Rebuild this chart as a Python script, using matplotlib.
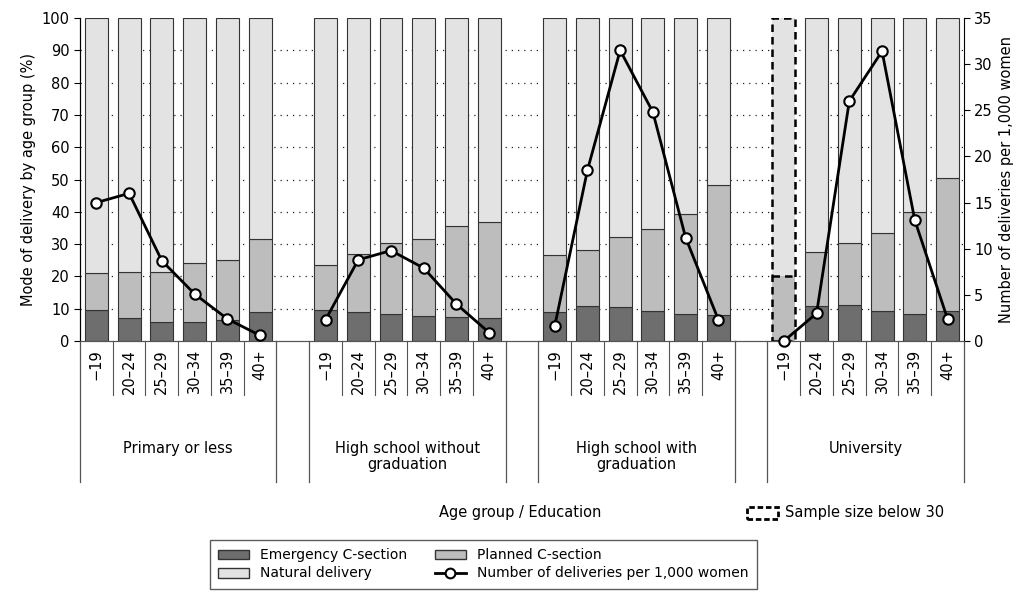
import matplotlib.pyplot as plt
from matplotlib.patches import Rectangle
from matplotlib.lines import Line2D

groups = ["Primary or less", "High school without\ngraduation", "High school with\ngraduation", "University"]
ages = ["\u221219", "20\u201324", "25\u201329", "30\u201334", "35\u201339", "40+"]

emergency = [[9.5, 7, 6, 6, 6.5, 9],
             [9.5, 9, 8.5, 7.8, 7.5, 7],
             [9, 10.8, 10.5, 9.3, 8.5, 8],
             [0, 10.7, 11, 9.3, 8.3, 9.3]]
csection_total = [[21, 21.5, 21.5, 24, 25, 31.5],
                  [23.5, 27, 30.2, 31.5, 35.5, 37],
                  [26.5, 28.3, 32.3, 34.7, 39.3, 48.3],
                  [20, 27.5, 30.3, 33.5, 40, 50.5]]
deliveries = [[15, 16, 8.7, 5.1, 2.4, 0.6],
              [2.3, 8.8, 9.8, 7.9, 4, 0.9],
              [1.6, 18.5, 31.5, 24.8, 11.2, 2.3],
              [0, 3, 26, 31.4, 13.1, 2.4]]

c_em, c_pl, c_nat, c_edge = "#6e6e6e", "#bdbdbd", "#e3e3e3", "#333333"

fig = plt.figure(figsize=(10.35, 6.01), dpi=100)
ax = fig.add_axes([0.0773, 0.4326, 0.854, 0.5374])
ax2 = ax.twinx()
w = 0.7

for g in range(4):
    xs = [g * 7 + i for i in range(6)]
    for i, x in enumerate(xs):
        em = emergency[g][i]
        tot = csection_total[g][i]
        if g == 3 and i == 0:
            ax.bar(x, tot, w, color=c_pl, edgecolor="none", zorder=2)
            ax.bar(x, 100 - tot, w, bottom=tot, color=c_nat, edgecolor="none", zorder=2)
            ax.bar(x, 100, w, fill=False, edgecolor="black", linestyle=(0, (3, 2)), lw=1.8, zorder=3)
            ax.plot([x - w / 2, x + w / 2], [tot, tot], color="black", ls=(0, (3, 2)), lw=1.8, zorder=3)
            continue
        ax.bar(x, em, w, color=c_em, edgecolor=c_edge, lw=0.8, zorder=2)
        ax.bar(x, tot - em, w, bottom=em, color=c_pl, edgecolor=c_edge, lw=0.8, zorder=2)
        ax.bar(x, 100 - tot, w, bottom=tot, color=c_nat, edgecolor=c_edge, lw=0.8, zorder=2)
    ax2.plot(xs, deliveries[g], color="black", lw=2, marker="o", ms=7.5,
             mfc="white", mec="black", mew=1.5, zorder=5, clip_on=False)

ax.set_xlim(-0.5, 26.5)
ax.set_ylim(0, 100)
ax2.set_ylim(0, 35)
ax.set_yticks(range(0, 101, 10))
ax2.set_yticks(range(0, 36, 5))
for y in range(10, 100, 10):
    ax.axhline(y, color="#222222", ls=(0, (1, 4)), lw=0.9, zorder=1)
ax.set_xticks([])
for a in (ax, ax2):
    a.tick_params(labelsize=10.5, length=4)
    a.spines["top"].set_visible(False)
    a.spines["bottom"].set_color("#555555")
ax.spines["right"].set_visible(False)
ax.set_ylabel("Mode of delivery by age group (%)", fontsize=10.5)
ax2.set_ylabel("Number of deliveries per 1,000 women", fontsize=10.5)

tr = ax.get_xaxis_transform()
for g in range(4):
    for i in range(6):
        x = g * 7 + i
        ax.text(x, -0.025, ages[i], rotation=90, ha="center", va="top", fontsize=10.5, transform=tr)
        if i > 0:
            ax.plot([x - 0.5] * 2, [0, -0.167], color="#555555", lw=0.8, transform=tr, clip_on=False)
    left, right = g * 7 - 0.5, g * 7 + 5.5
    for xe in (left, right):
        ax.plot([xe] * 2, [0, -0.437], color="#555555", lw=0.9, transform=tr, clip_on=False)
    ax.text(g * 7 + 2.5, -0.31, groups[g], ha="center", va="top", fontsize=10.5,
            linespacing=1.1, transform=tr)

fig.text(0.503, 1 - 512 / 601, "Age group / Education", ha="center", va="center", fontsize=10.5)
fig.patches.append(Rectangle((0.722, 1 - 519 / 601), 0.030, 0.020, fill=False, ls=(0, (2, 1)),
                             lw=2, ec="black", transform=fig.transFigure, zorder=5))
fig.text(0.758, 1 - 512 / 601, "Sample size below 30", ha="left", va="center", fontsize=10.5)

handles = [Rectangle((0, 0), 1, 1, fc=c_em, ec=c_edge), Rectangle((0, 0), 1, 1, fc=c_nat, ec=c_edge),
           Rectangle((0, 0), 1, 1, fc=c_pl, ec=c_edge),
           Line2D([], [], color="black", lw=2, marker="o", ms=7, mfc="white", mec="black", mew=1.5)]
labels = ["Emergency C-section", "Natural delivery", "Planned C-section", "Number of deliveries per 1,000 women"]
fig.legend(handles, labels, ncol=2, loc="upper center", bbox_to_anchor=(0.467, 1 - 540 / 601), fontsize=10,
           frameon=True, fancybox=False, edgecolor="#333333", handlelength=2.2, columnspacing=2.0,
           borderpad=0.6, labelspacing=0.3, borderaxespad=0)

fig.savefig("out.png", dpi=100)
